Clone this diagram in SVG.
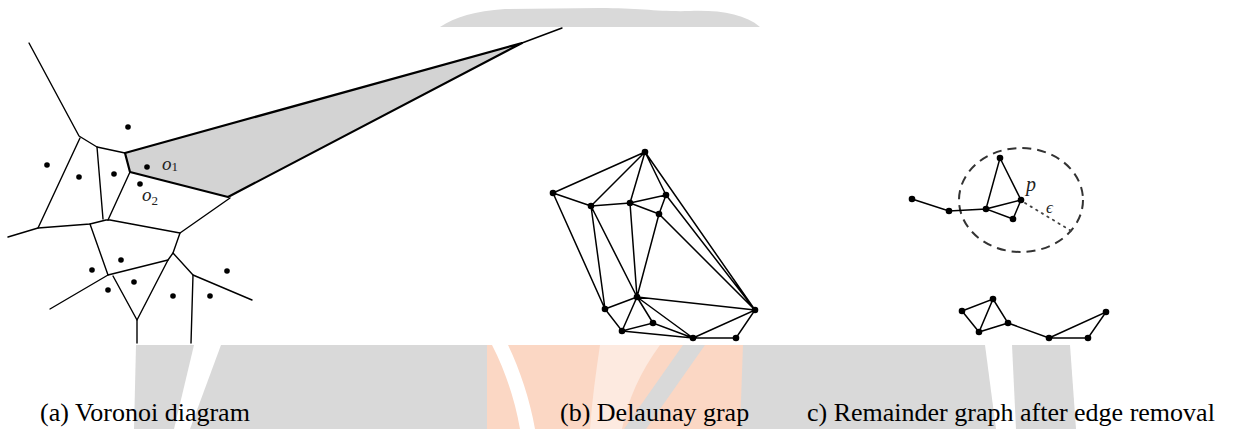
<svg xmlns="http://www.w3.org/2000/svg" width="1234" height="429" viewBox="0 0 1234 429">
<style>
.wm{fill:#d9d9d9}
.wo{fill:#fbd7c4}
.v{stroke:#000;stroke-width:1.4;fill:none;stroke-linecap:round;stroke-linejoin:round}
.vb{stroke:#000;stroke-width:2.2;fill:#d3d3d3;stroke-linejoin:round}
.e{stroke:#000;stroke-width:1.5;fill:none;stroke-linecap:round}
.n{fill:#000}
</style>
<rect width="1234" height="429" fill="#fff"/>
<g id="watermark">
  <path class="wm" d="M440 27 C455 17 475 11 505 9 L600 8 C640 8 660 12 690 11 C720 10 745 14 760 27 Z"/>
  <polygon class="wm" points="136,345 194,345 174,429 134,429"/>
  <polygon class="wm" points="221,345 487,345 487,429 190,429"/>
  <path class="wo" d="M487 345 L743 345 C748 375 748 405 740 429 L487 429 Z"/>
  <path fill="#fff" d="M492 345 C505 370 515 400 520 429 L535 429 C530 400 520 370 508 345 Z"/>
  <path fill="#fdeae0" d="M600 345 L660 345 C640 372 628 400 622 429 L590 429 C592 400 596 372 600 345 Z"/>
  <polygon class="wm" points="683,345 705,345 646,429 624,429"/>
  <polygon class="wm" points="743,345 985,345 996,429 740,429"/>
  <polygon class="wm" points="1012,345 1070,345 1076,429 1016,429"/>
</g>
<g id="voronoi">
  <polygon class="vb" points="125,153 522,43 228,197 130,172"/>
  <polyline class="v" points="522,43 562,28"/>
  <polyline class="v" points="29,43 79,136 97,147 125,153"/>
  <polyline class="v" points="80,138 38,228"/>
  <polyline class="v" points="8,237 38,228 90,224 106,220 110,220 180,233 230,198"/>
  <polyline class="v" points="97,147 103,219"/>
  <polyline class="v" points="130,172 108,220"/>
  <polyline class="v" points="180,233 173,253 168,260 108,275 90,224"/>
  <polyline class="v" points="108,275 50,309"/>
  <polyline class="v" points="113,276 137,320 168,260"/>
  <polyline class="v" points="137,320 137,343"/>
  <polyline class="v" points="173,253 193,275 252,300"/>
  <polyline class="v" points="193,275 191,343"/>
  <g class="n">
    <circle cx="128" cy="127" r="2.8"/><circle cx="47" cy="165" r="2.8"/>
    <circle cx="79" cy="177" r="2.8"/><circle cx="114" cy="174" r="2.8"/>
    <circle cx="147" cy="167" r="2.8"/><circle cx="140" cy="184" r="2.8"/>
    <circle cx="121" cy="260" r="2.8"/><circle cx="92" cy="270" r="2.8"/>
    <circle cx="134" cy="282" r="2.8"/><circle cx="108" cy="290" r="2.8"/>
    <circle cx="173" cy="296" r="2.8"/><circle cx="210" cy="296" r="2.8"/>
    <circle cx="227" cy="271" r="2.8"/>
  </g>
  <text x="162" y="170" font-family="Liberation Serif, serif" font-style="italic" font-size="19" fill="#222">o<tspan font-size="13" font-style="normal" dy="1">1</tspan></text>
  <text x="142" y="201" font-family="Liberation Serif, serif" font-style="italic" font-size="19" fill="#222">o<tspan font-size="13" font-style="normal" dy="4">2</tspan></text>
</g>
<g id="delaunay-edges">
  <path class="e" d="M645 152L553 193M645 152L591 206M645 152L630 203M645 152L666 195M645 152L755 310M666 195L755 310M659 214L755 310
  M553 193L591 206M553 193L605 309M591 206L630 203L666 195M630 203L659 214L666 195
  M591 206L605 309M591 206L637 297M630 203L637 297M659 214L637 297
  M637 297L605 309M637 297L622 331M637 297L653 323M637 297L693 338M637 297L755 310
  M605 309L622 331L653 323L693 338M622 331L693 338L736 338L755 310L693 338"/>
</g>
<g id="delaunay-nodes" class="n">
  <circle id="d1" cx="645" cy="152" r="3.3"/><circle id="d2" cx="553" cy="193" r="3.3"/>
  <circle id="d3" cx="591" cy="206" r="3.3"/><circle id="d4" cx="630" cy="203" r="3.3"/>
  <circle id="d5" cx="666" cy="195" r="3.3"/><circle id="d6" cx="659" cy="214" r="3.3"/>
  <circle id="d7" cx="637" cy="297" r="3.3"/><circle id="d8" cx="605" cy="309" r="3.3"/>
  <circle id="d9" cx="653" cy="323" r="3.3"/><circle id="d10" cx="622" cy="331" r="3.3"/>
  <circle id="d11" cx="693" cy="338" r="3.3"/><circle id="d12" cx="736" cy="338" r="3.3"/>
  <circle id="d13" cx="755" cy="310" r="3.3"/>
</g>
<g id="remainder-edges">
  <ellipse cx="1021" cy="200" rx="62" ry="52" fill="none" stroke="#333" stroke-width="2" stroke-dasharray="9 6"/>
  <line x1="1025" y1="203" x2="1073" y2="232" stroke="#444" stroke-width="1.8" stroke-dasharray="1.5 5" stroke-linecap="round"/>
  <path class="e" d="M912 199L949 211L986 209L1000 158L1021 200L986 209L1013 219L1021 200
  M962 311L993 299L979 332L962 311M993 299L1008 323L979 332M1008 323L1049 338L1088 338L1106 312L1049 338"/>
</g>
<g id="remainder-nodes" class="n">
  <circle cx="912" cy="199" r="3.3"/><circle cx="949" cy="211" r="3.3"/>
  <circle cx="986" cy="209" r="3.3"/><circle cx="1000" cy="158" r="3.3"/>
  <circle cx="1021" cy="200" r="3.3"/><circle cx="1013" cy="219" r="3.3"/>
  <circle cx="962" cy="311" r="3.3"/><circle cx="993" cy="299" r="3.3"/>
  <circle cx="979" cy="332" r="3.3"/><circle cx="1008" cy="323" r="3.3"/>
  <circle cx="1049" cy="338" r="3.3"/><circle cx="1088" cy="338" r="3.3"/>
  <circle cx="1106" cy="312" r="3.3"/>
</g>
<text x="1026" y="191" font-family="Liberation Serif, serif" font-style="italic" font-size="20" fill="#222">p</text>
<text x="1046" y="213" font-family="Liberation Serif, serif" font-style="italic" font-size="17" fill="#222">ϵ</text>
<g id="captions" font-family="Liberation Serif, serif" font-size="26" fill="#000">
  <text x="40" y="421">(a) Voronoi diagram</text>
  <text x="560" y="421">(b) Delaunay grap</text>
  <text x="807" y="421">c) Remainder graph after edge removal</text>
</g>
</svg>
